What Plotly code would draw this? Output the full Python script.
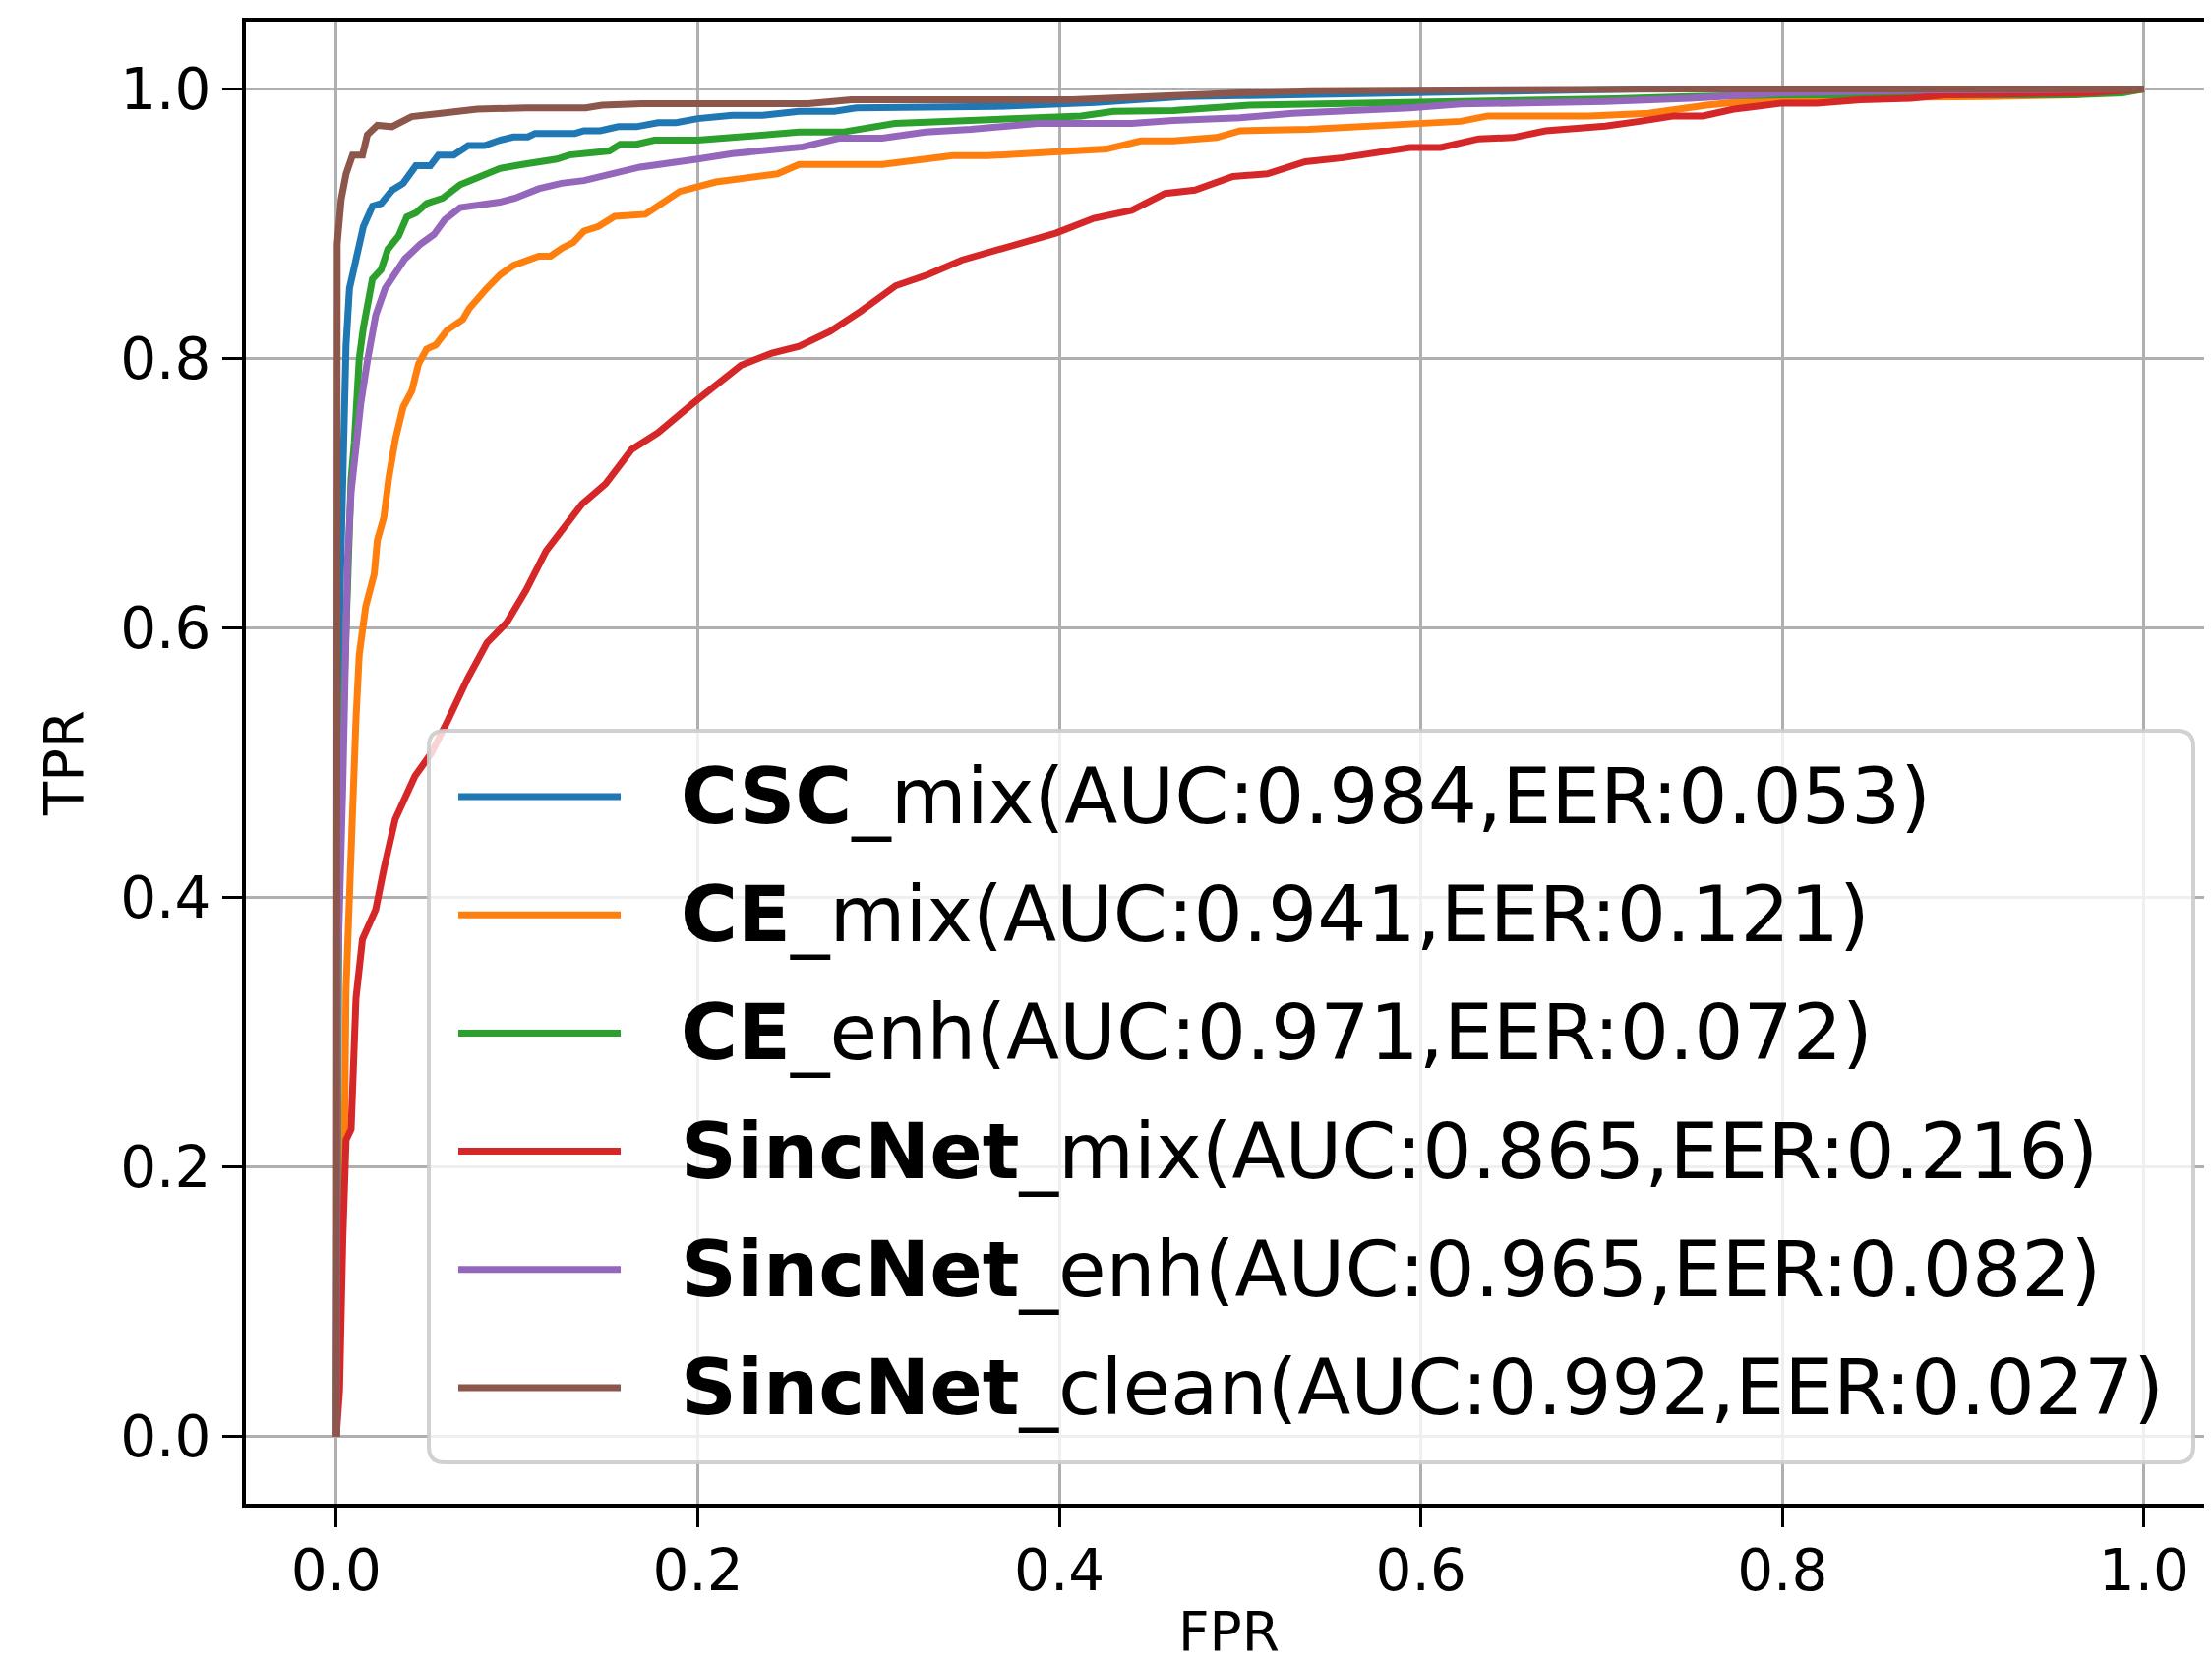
import plotly.graph_objects as go

# ---------------- data ----------------
csc_mix_fpr = [0, 0.0003, 0.001, 0.002, 0.0036, 0.0054, 0.0073, 0.0114, 0.015, 0.020,
               0.0248, 0.031, 0.037, 0.044, 0.052, 0.0565, 0.065, 0.073, 0.082, 0.0905,
               0.098, 0.106, 0.110, 0.132, 0.137, 0.146, 0.156, 0.166, 0.178, 0.188,
               0.200, 0.219, 0.236, 0.256, 0.2755, 0.2876, 0.326, 0.365, 0.42, 0.468,
               0.50, 0.55, 0.60, 0.64, 0.72, 1.0]
csc_mix_tpr = [0, 0.25, 0.50, 0.62, 0.725, 0.81, 0.852, 0.879, 0.898, 0.913,
               0.915, 0.925, 0.930, 0.943, 0.943, 0.951, 0.951, 0.958, 0.958, 0.962,
               0.9644, 0.9644, 0.967, 0.967, 0.969, 0.969, 0.972, 0.972, 0.975, 0.975,
               0.978, 0.9805, 0.9805, 0.9834, 0.9834, 0.9859, 0.9859, 0.987, 0.990, 0.9944,
               0.995, 0.996, 0.997, 0.998, 1.0, 1.0]

ce_mix_fpr = [0, 0.001, 0.003, 0.0045, 0.0054, 0.0073, 0.0091, 0.0109, 0.0127, 0.0145,
              0.0163, 0.021, 0.0227, 0.0263, 0.029, 0.0327, 0.037, 0.0418, 0.0455, 0.050,
              0.055, 0.0613, 0.070, 0.0735, 0.0798, 0.0832, 0.0905, 0.098, 0.112, 0.1185,
              0.125, 0.131, 0.137, 0.145, 0.154, 0.171, 0.190, 0.21, 0.244, 0.256,
              0.302, 0.327, 0.341, 0.36, 0.398, 0.426, 0.445, 0.463, 0.487, 0.50,
              0.538, 0.571, 0.622, 0.637, 0.693, 0.726, 0.758, 0.796, 0.890, 0.913,
              0.96, 1.0]
ce_mix_tpr = [0, 0.05, 0.15, 0.22, 0.332, 0.414, 0.483, 0.532, 0.58, 0.604,
              0.616, 0.64, 0.665, 0.682, 0.711, 0.74, 0.764, 0.776, 0.796, 0.807,
              0.81, 0.821, 0.829, 0.837, 0.848, 0.852, 0.862, 0.869, 0.876, 0.876,
              0.882, 0.886, 0.8945, 0.898, 0.9055, 0.907, 0.924, 0.931, 0.937, 0.944,
              0.944, 0.948, 0.9505, 0.9505, 0.954, 0.9554, 0.9615, 0.9615, 0.964, 0.969,
              0.970, 0.9725, 0.976, 0.980, 0.980, 0.982, 0.988, 0.993, 0.9937, 0.9944,
              0.9956, 1.0]

ce_enh_fpr = [0, 0.0005, 0.0015, 0.003, 0.0045, 0.0064, 0.0082, 0.0100, 0.0127, 0.015,
              0.020, 0.0248, 0.0285, 0.0345, 0.039, 0.044, 0.050, 0.0589, 0.065, 0.0686,
              0.076, 0.0905, 0.103, 0.122, 0.129, 0.151, 0.157, 0.166, 0.176, 0.2,
              0.219, 0.256, 0.28, 0.295, 0.309, 0.330, 0.351, 0.384, 0.412, 0.43,
              0.463, 0.505, 0.557, 0.613, 0.707, 0.749, 0.80, 0.96, 0.988, 1.0]
ce_enh_tpr = [0, 0.2, 0.4, 0.5, 0.56, 0.628, 0.71, 0.738, 0.80, 0.823,
              0.859, 0.866, 0.881, 0.891, 0.905, 0.908, 0.915, 0.919, 0.926, 0.929,
              0.933, 0.941, 0.944, 0.948, 0.951, 0.954, 0.959, 0.959, 0.962, 0.962,
              0.964, 0.968, 0.968, 0.9713, 0.9744, 0.9756, 0.977, 0.9786, 0.98, 0.9834,
              0.984, 0.988, 0.989, 0.9907, 0.9927, 0.9944, 0.9956, 0.9956, 0.997, 1.0]

sinc_mix_fpr = [0, 0.0018, 0.0036, 0.0054, 0.0082, 0.0109, 0.0145, 0.0218, 0.0263, 0.0326,
                0.0435, 0.0526, 0.0616, 0.0725, 0.0834, 0.0943, 0.105, 0.116, 0.136, 0.149,
                0.1635, 0.178, 0.1976, 0.224, 0.241, 0.256, 0.273, 0.29, 0.3095, 0.327,
                0.346, 0.365, 0.398, 0.419, 0.44, 0.4585, 0.475, 0.496, 0.515, 0.536,
                0.557, 0.594, 0.611, 0.632, 0.651, 0.669, 0.702, 0.721, 0.74, 0.756,
                0.773, 0.80, 0.819, 0.843, 0.871, 0.89, 0.969, 1.0]
sinc_mix_tpr = [0, 0.034, 0.146, 0.220, 0.228, 0.325, 0.369, 0.391, 0.421, 0.458,
                0.49, 0.507, 0.531, 0.562, 0.589, 0.604, 0.628, 0.657, 0.692, 0.707,
                0.7325, 0.745, 0.767, 0.795, 0.804, 0.809, 0.820, 0.835, 0.854, 0.862,
                0.873, 0.880, 0.893, 0.904, 0.910, 0.9225, 0.925, 0.935, 0.937, 0.946,
                0.949, 0.9566, 0.9566, 0.963, 0.964, 0.969, 0.9725, 0.976, 0.980, 0.980,
                0.985, 0.9895, 0.9895, 0.992, 0.993, 0.9956, 0.997, 1.0]

sinc_enh_fpr = [0, 0.0005, 0.0009, 0.0036, 0.0054, 0.0063, 0.0082, 0.0109, 0.0136, 0.0172,
                0.0218, 0.027, 0.038, 0.0467, 0.054, 0.060, 0.0686, 0.0905, 0.099, 0.112,
                0.1246, 0.137, 0.168, 0.2, 0.219, 0.258, 0.278, 0.302, 0.326, 0.351,
                0.388, 0.44, 0.463, 0.50, 0.529, 0.594, 0.622, 0.702, 0.749, 0.80,
                0.885, 1.0]
sinc_enh_tpr = [0, 0.15, 0.35, 0.483, 0.604, 0.652, 0.701, 0.737, 0.767, 0.798,
                0.832, 0.852, 0.874, 0.885, 0.892, 0.903, 0.912, 0.916, 0.919, 0.926,
                0.930, 0.932, 0.942, 0.948, 0.952, 0.957, 0.9635, 0.9635, 0.968, 0.970,
                0.9744, 0.9744, 0.9766, 0.9786, 0.982, 0.986, 0.9888, 0.9907, 0.993, 0.997,
                0.9993, 1.0]

sinc_clean_fpr = [0, 0, 0.0005, 0.0027, 0.0054, 0.009, 0.0145, 0.0172, 0.0227, 0.0308,
                  0.0417, 0.058, 0.078, 0.105, 0.138, 0.147, 0.169, 0.261, 0.285, 0.326,
                  0.407, 0.50, 0.538, 0.749, 1.0]
sinc_clean_tpr = [0, 0.87, 0.885, 0.918, 0.937, 0.951, 0.951, 0.966, 0.973, 0.972,
                  0.9795, 0.982, 0.985, 0.986, 0.986, 0.988, 0.989, 0.989, 0.992, 0.992,
                  0.992, 0.997, 0.9988, 1.0, 1.0]

model_bold = ["CSC", "CE", "CE", "SincNet", "SincNet", "SincNet"]
model_suffix = ["mix", "mix", "enh", "mix", "enh", "clean"]
auc_values = ["0.984", "0.941", "0.971", "0.865", "0.965", "0.992"]
eer_values = ["0.053", "0.121", "0.072", "0.216", "0.082", "0.027"]
colors = ["#1f77b4", "#ff7f0e", "#2ca02c", "#d62728", "#9467bd", "#8c564b"]

tick_vals = [0.0, 0.2, 0.4, 0.6, 0.8, 1.0]
tick_text = ["0.0", "0.2", "0.4", "0.6", "0.8", "1.0"]

fprs = [csc_mix_fpr, ce_mix_fpr, ce_enh_fpr, sinc_mix_fpr, sinc_enh_fpr, sinc_clean_fpr]
tprs = [csc_mix_tpr, ce_mix_tpr, ce_enh_tpr, sinc_mix_tpr, sinc_enh_tpr, sinc_clean_tpr]

FONT = "DejaVu Sans"
OFF = 8  # page body margin of the html page
W, H = 2249 - OFF, 1691 - OFF
ML, MR, MT, MB = 250 - OFF, 0, 22 - OFF, 162
PW, PH = W - ML - MR, H - MT - MB
X_PER_UNIT = 1838.0
X_MAX = -0.05 + PW / X_PER_UNIT

fig = go.Figure()
labels = []
for b, s, a, e in zip(model_bold, model_suffix, auc_values, eer_values):
    labels.append(f"<b>{b}</b>_{s}(AUC:{a},EER:{e})")

for fx, ty, c, lab in zip(fprs, tprs, colors, labels):
    fig.add_trace(go.Scatter(x=fx, y=ty, mode="lines", name=lab,
                             line=dict(color=c, width=7), showlegend=False))

# ---- custom legend (matplotlib-like rounded frame); page-pixel helpers ----
def px2paper_x(px):
    return (px - OFF - ML) / PW

def py2paper_y(py):
    return (H - MB - (py - OFF)) / PH

bx0, bx1 = px2paper_x(436), px2paper_x(2230)
by0, by1 = py2paper_y(1487), py2paper_y(743)
rx, ry = 16 / PW, 16 / PH
path = (f"M {bx0+rx},{by0} L {bx1-rx},{by0} Q {bx1},{by0} {bx1},{by0+ry} "
        f"L {bx1},{by1-ry} Q {bx1},{by1} {bx1-rx},{by1} "
        f"L {bx0+rx},{by1} Q {bx0},{by1} {bx0},{by1-ry} "
        f"L {bx0},{by0+ry} Q {bx0},{by0} {bx0+rx},{by0} Z")
shapes = [dict(type="path", path=path, xref="paper", yref="paper",
               fillcolor="rgba(255,255,255,0.8)",
               line=dict(color="rgba(204,204,204,0.9)", width=4), layer="above")]
annotations = []
row0 = 810
row_step = 120.2
for i, (c, lab) in enumerate(zip(colors, labels)):
    yc = py2paper_y(row0 + i * row_step)
    shapes.append(dict(type="line", xref="paper", yref="paper",
                       x0=px2paper_x(466), x1=px2paper_x(631), y0=yc, y1=yc,
                       line=dict(color=c, width=7), layer="above"))
    annotations.append(dict(xref="paper", yref="paper", x=px2paper_x(690), y=yc,
                            xanchor="left", yanchor="middle", text=lab, showarrow=False,
                            font=dict(family=FONT, size=79, color="black")))

axis_common = dict(
    showgrid=True, gridcolor="#b0b0b0", gridwidth=3,
    zeroline=False, showline=True, linecolor="black", linewidth=4,
    ticks="outside", ticklen=20, tickwidth=3, tickcolor="black",
    tickfont=dict(family=FONT, size=58, color="black"),
    tickvals=tick_vals, ticktext=tick_text, automargin=False,
)

fig.update_layout(
    width=W, height=H,
    margin=dict(l=ML, r=MR, t=MT, b=MB),
    paper_bgcolor="white", plot_bgcolor="white",
    xaxis=dict(range=[-0.05, X_MAX], mirror=True, ticklabelstandoff=-6,
               title=dict(text="FPR", font=dict(family=FONT, size=55, color="black"), standoff=28),
               **axis_common),
    yaxis=dict(range=[-0.05, 1.05], mirror=False,
               title=dict(text="TPR", font=dict(family=FONT, size=56, color="black"), standoff=21),
               **axis_common),
    shapes=shapes,
    annotations=annotations,
)

fig.write_html("out.html")
